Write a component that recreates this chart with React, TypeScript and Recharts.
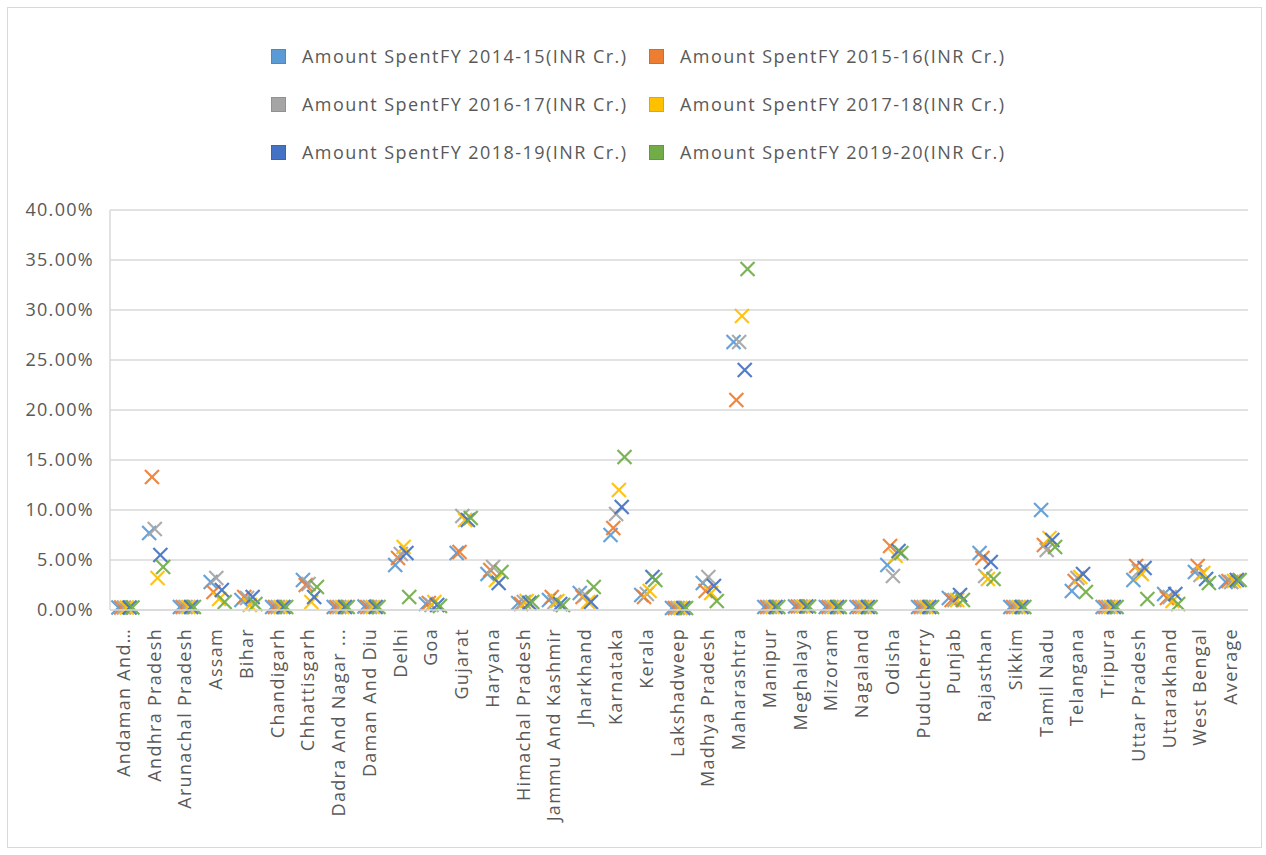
import React from 'react';
import { BarChart, Bar, XAxis, YAxis, CartesianGrid, Legend } from 'recharts';

// State / UT categories (labels as drawn on the axis)
const states = [
  'Andaman And…', 'Andhra Pradesh', 'Arunachal Pradesh', 'Assam', 'Bihar', 'Chandigarh',
  'Chhattisgarh', 'Dadra And Nagar ...', 'Daman And Diu', 'Delhi', 'Goa', 'Gujarat',
  'Haryana', 'Himachal Pradesh', 'Jammu And Kashmir', 'Jharkhand', 'Karnataka', 'Kerala',
  'Lakshadweep', 'Madhya Pradesh', 'Maharashtra', 'Manipur', 'Meghalaya', 'Mizoram',
  'Nagaland', 'Odisha', 'Puducherry', 'Punjab', 'Rajasthan', 'Sikkim', 'Tamil Nadu',
  'Telangana', 'Tripura', 'Uttar Pradesh', 'Uttarakhand', 'West Bengal', 'Average',
];

// Share of amount spent (%) per financial year
const fy1415 = [0.25, 7.7, 0.3, 2.8, 1.0, 0.3, 3.0, 0.3, 0.35, 4.5, 0.6, 5.7, 3.6, 0.7, 1.0, 1.7, 7.5, 1.5, 0.2, 2.7, 26.8, 0.3, 0.35, 0.3, 0.3, 4.5, 0.3, 1.2, 5.7, 0.3, 10.0, 1.9, 0.3, 3.0, 1.6, 3.8, 2.8];
const fy1516 = [0.25, 13.3, 0.3, 1.8, 1.3, 0.3, 2.5, 0.3, 0.3, 5.2, 0.7, 5.8, 4.0, 0.6, 1.3, 1.3, 8.2, 1.3, 0.2, 1.9, 21.0, 0.3, 0.35, 0.3, 0.3, 6.4, 0.3, 1.0, 5.2, 0.3, 6.5, 2.9, 0.3, 4.4, 1.2, 4.4, 2.9];
const fy1617 = [0.25, 8.1, 0.3, 3.2, 1.2, 0.3, 2.6, 0.3, 0.3, 5.6, 0.5, 9.4, 4.3, 0.8, 0.8, 1.5, 9.6, 1.6, 0.2, 3.3, 26.8, 0.3, 0.35, 0.3, 0.3, 3.4, 0.3, 1.0, 3.4, 0.3, 6.0, 3.2, 0.3, 3.9, 1.3, 3.5, 2.8];
const fy1718 = [0.25, 3.2, 0.3, 1.1, 0.5, 0.3, 0.8, 0.3, 0.3, 6.3, 0.8, 9.0, 3.0, 0.9, 0.9, 0.8, 12.0, 1.9, 0.2, 1.7, 29.4, 0.3, 0.35, 0.3, 0.3, 5.4, 0.3, 1.0, 3.1, 0.3, 7.2, 3.3, 0.3, 3.6, 0.9, 3.7, 2.9];
const fy1819 = [0.25, 5.5, 0.3, 2.0, 1.3, 0.3, 1.3, 0.3, 0.3, 5.7, 0.5, 9.0, 2.7, 0.7, 0.6, 0.8, 10.3, 3.3, 0.2, 2.4, 24.0, 0.3, 0.35, 0.3, 0.3, 5.9, 0.3, 1.5, 4.8, 0.3, 7.0, 3.6, 0.3, 4.2, 1.6, 3.1, 3.0];
const fy1920 = [0.25, 4.3, 0.3, 0.8, 0.6, 0.3, 2.3, 0.3, 0.3, 1.3, 0.4, 9.2, 3.8, 0.8, 0.5, 2.3, 15.3, 3.0, 0.2, 0.9, 34.1, 0.3, 0.35, 0.3, 0.3, 5.7, 0.3, 1.0, 3.1, 0.3, 6.3, 1.8, 0.3, 1.1, 0.6, 2.7, 3.0];

const yTicks = [0, 5, 10, 15, 20, 25, 30, 35, 40];

const series = [
  { key: 'fy1415', name: 'Amount SpentFY 2014-15(INR Cr.)', color: '#5B9BD5', values: fy1415 },
  { key: 'fy1516', name: 'Amount SpentFY 2015-16(INR Cr.)', color: '#ED7D31', values: fy1516 },
  { key: 'fy1617', name: 'Amount SpentFY 2016-17(INR Cr.)', color: '#A5A5A5', values: fy1617 },
  { key: 'fy1718', name: 'Amount SpentFY 2017-18(INR Cr.)', color: '#FFC000', values: fy1718 },
  { key: 'fy1819', name: 'Amount SpentFY 2018-19(INR Cr.)', color: '#4472C4', values: fy1819 },
  { key: 'fy1920', name: 'Amount SpentFY 2019-20(INR Cr.)', color: '#70AD47', values: fy1920 },
];

const data = states.map((state, i) => {
  const row: Record<string, string | number> = { state };
  series.forEach((s) => { row[s.key] = s.values[i]; });
  return row;
});

const FONT = '"Open Sans", "Noto Sans", sans-serif';
const TEXT = '#595959';

// Draws an "x" marker at the top-centre of each (invisible) bar slot
const makeCross = (color: string) => (props: any) => {
  const { x, y, width } = props;
  if (x == null || y == null) return <g />;
  const cx = x + width / 2;
  const r = 7;
  return (
    <g stroke={color} strokeWidth={2.2} opacity={0.92}>
      <line x1={cx - r} y1={y - r} x2={cx + r} y2={y + r} />
      <line x1={cx - r} y1={y + r} x2={cx + r} y2={y - r} />
    </g>
  );
};

const StateTick = (props: any) => {
  const { x, y, payload } = props;
  return (
    <g transform={`translate(${x},${y + 18}) rotate(-90)`}>
      <text
        x={0}
        y={0}
        dy="0.25em"
        textAnchor="end"
        fill={TEXT}
        fontSize={18}
        fontFamily={FONT}
        style={{ letterSpacing: '1.3px' }}
      >
        {payload.value}
      </text>
    </g>
  );
};

const LegendGrid = () => (
  <div style={{ position: 'relative', width: '100%', height: 180 }}>
    {series.map((s, i) => {
      const col = i % 2;
      const row = Math.floor(i / 2);
      return (
        <div
          key={s.key}
          style={{
            position: 'absolute',
            left: 263 + col * 378,
            top: 36 + row * 48,
            height: 24,
            display: 'flex',
            alignItems: 'center',
            whiteSpace: 'nowrap',
          }}
        >
          <span
            style={{
              display: 'block',
              flex: '0 0 15px',
              width: 15,
              height: 15,
              boxSizing: 'border-box',
              background: s.color,
              border: '1px solid rgba(0,0,0,0.12)',
              marginRight: 16,
            }}
          />
          <span style={{ fontFamily: FONT, fontSize: 18, color: TEXT, letterSpacing: '1.45px' }}>{s.name}</span>
        </div>
      );
    })}
  </div>
);

export default function App() {
  const W = 1253;
  const H = 839;
  return (
    <div
      style={{
        position: 'absolute',
        left: 7,
        top: 7,
        width: W,
        height: H,
        border: '1px solid #D9D9D9',
        background: '#fff',
        fontFamily: FONT,
      }}
    >
      <BarChart
        width={W}
        height={H}
        data={data}
        margin={{ top: 202, right: 13, bottom: 0, left: 0 }}
        barSize={2.8}
        barGap={0}
      >
        <CartesianGrid vertical={false} stroke="#D9D9D9" strokeWidth={1.5} />
        <XAxis
          dataKey="state"
          type="category"
          interval={0}
          height={237}
          tickLine={false}
          tickSize={0}
          tickMargin={0}
          axisLine={{ stroke: '#D9D9D9', strokeWidth: 1.5 }}
          tick={<StateTick />}
        />
        <YAxis
          type="number"
          domain={[0, 40]}
          ticks={yTicks}
          width={102}
          tickLine={false}
          tickSize={0}
          tickMargin={16}
          axisLine={{ stroke: '#D9D9D9', strokeWidth: 1.5 }}
          tickFormatter={(v: number) => `${v.toFixed(2)}%`}
          tick={{ fill: TEXT, fontSize: 18, fontFamily: FONT, style: { letterSpacing: '1.3px' } }}
        />
        <Legend
          layout="vertical"
          align="center"
          verticalAlign="middle"
          wrapperStyle={{ top: 0, left: 0, width: W, height: 180 }}
          content={<LegendGrid />}
        />
        {series.map((s) => (
          <Bar
            key={s.key}
            dataKey={s.key}
            name={s.name}
            fill={s.color}
            isAnimationActive={false}
            shape={makeCross(s.color)}
            activeBar={false}
          />
        ))}
      </BarChart>
    </div>
  );
}
